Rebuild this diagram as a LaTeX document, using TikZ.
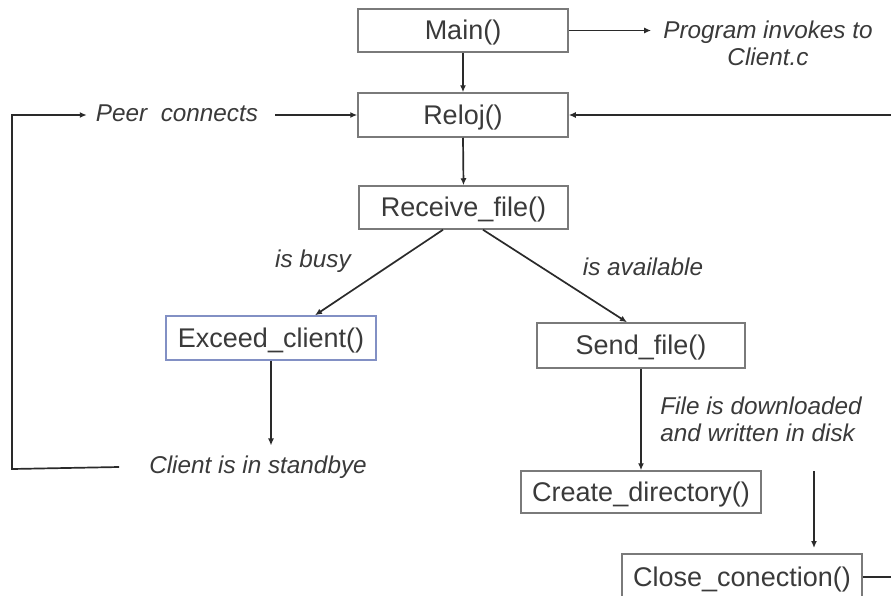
\documentclass[tikz,border=0pt]{standalone}
\usepackage{fontspec}
\setmainfont{Liberation Sans}
\usetikzlibrary{arrows.meta,calc}
\definecolor{txt}{HTML}{3A3A3A}
\definecolor{lncol}{HTML}{2A2A2A}
\definecolor{bx}{HTML}{7A7A7A}
\definecolor{bbx}{HTML}{8290C4}
\begin{document}
\begin{tikzpicture}[x=1pt,y=-1pt,
 box/.style={draw=bx,line width=1.5pt,rectangle,inner sep=0pt,text=txt,text height=20pt,text depth=2pt,font=\fontsize{27}{30}\selectfont},
 lbl/.style={text=txt,font=\fontsize{24.3}{27}\selectfont\itshape,inner sep=0pt,align=center},
 arr/.style={draw=lncol,line width=1.7pt,-{Latex[length=7pt,width=6pt]}},
 plain/.style={draw=lncol,line width=1.7pt}]
\useasboundingbox (0,0) rectangle (891,595);
\clip (0,0) rectangle (891,595);
\fill[white] (0,0) rectangle (891,595);

% boxes
\node[box,minimum width=210pt,minimum height=43pt] (main) at (463,30.5) {Main()};
\node[box,minimum width=210pt,minimum height=44pt] (reloj) at (463,115) {Reloj()};
\node[box,minimum width=209pt,minimum height=43pt] (recv) at (463.5,207.5) {Receive\_file()};
\node[box,draw=bbx,minimum width=210pt,minimum height=44pt] (exceed) at (271,338) {Exceed\_client()};
\node[box,minimum width=208pt,minimum height=45pt] (send) at (641,345.5) {Send\_file()};
\node[box,minimum width=240pt,minimum height=42pt] (create) at (641,492) {Create\_directory()};
\node[box,minimum width=240pt,minimum height=46pt] (close) at (742,577) {Close\_conection()};

% labels
\node[lbl] (prog) at (768,43.5) {Program invokes to\\Client.c};
\node[lbl] (peer) at (177,113) {Peer\ \ connects};
\node[lbl] (busy) at (313,261) {is busy};
\node[lbl] (avail) at (643,267) {is available};
\node[lbl] (standby) at (258,467) {Client is in standbye};
\node[lbl,align=left] (filedl) at (761,419.5) {File is downloaded\\and written in disk};

% connectors
\draw[arr,shorten >=12pt] (main.east) -- (main.east -| prog.west);
\draw[arr] (main.south) -- (reloj.north);
\draw[arr] (reloj.south) -- (recv.north);
\coordinate (rr) at (895,115);
\draw[arr] (rr) -- (reloj.east);
\draw[arr,shorten <=17pt] (peer.east |- reloj.west) -- (reloj.west);
\coordinate (lc) at (12,469);
\draw[arr] ($(standby.west)+(-30,0)$) -- (lc) -- (lc |- reloj.west) -- ($(peer.west |- reloj.west)+(-9,0)$);
\draw[arr] ($(recv.south)+(-20.5,0)$) -- ($(exceed.north)+(44,0)$);
\draw[arr] ($(recv.south)+(19.5,0)$) -- ($(send.north)+(-14,0)$);
\draw[arr,shorten >=10pt] (exceed.south) -- (exceed.south |- standby.north);
\draw[arr] (send.south) -- (create.north);
\coordinate (dlA) at (814,471);
\coordinate (dlB) at (814,548);
\draw[arr] (dlA) -- (dlB);
\coordinate (cr) at (895,577);
\draw[plain] (close.east) -- (cr);
\end{tikzpicture}
\end{document}
